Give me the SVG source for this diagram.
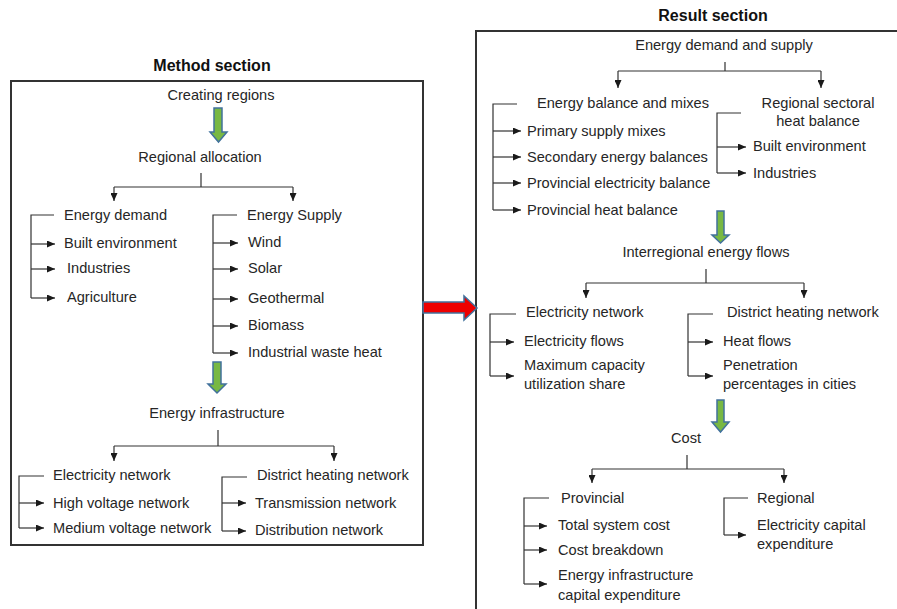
<svg xmlns="http://www.w3.org/2000/svg" width="897" height="609" viewBox="0 0 897 609">
  <defs>
    <marker id="ah" markerUnits="userSpaceOnUse" markerWidth="8" markerHeight="7" refX="8" refY="3.5" orient="auto">
      <path d="M0,0 L8,3.5 L0,7 Z" fill="#1a1a1a"/>
    </marker>
    <style>
      text { font-family: "Liberation Sans", Arial, sans-serif; font-size: 14.6px; fill: #262626; }
      .title { font-weight: bold; font-size: 16px; fill: #111; }
      .mid { text-anchor: middle; }
      .frame { fill: none; stroke: #333; stroke-width: 2; }
      .link { fill: none; stroke: #333; stroke-width: 1.2; }
      .arr { fill: none; stroke: #333; stroke-width: 1.2; marker-end: url(#ah); }
      .green { fill: #78b843; stroke: #41719c; stroke-width: 1.5; }
      .red { fill: #ee0000; stroke: #41719c; stroke-width: 1.5; }
    </style>
  </defs>
  <rect width="897" height="609" fill="#fff"/>

  <!-- section frames -->
  <g id="method-section">
    <rect class="frame" x="11" y="81" width="412" height="464"/>
    <text class="title mid" x="212" y="71">Method section</text>
  </g>
  <g id="result-section">
    <path class="frame" d="M898,31 H476 V610"/>
    <text class="title mid" x="713" y="21">Result section</text>
  </g>

  <!-- method nodes -->
  <g id="creating-regions"><text class="mid" x="221" y="100">Creating regions</text></g>
  <g id="regional-allocation"><text class="mid" x="200" y="162">Regional allocation</text></g>
  <g id="energy-demand">
    <text x="64" y="220">Energy demand</text>
    <text x="64" y="248">Built environment</text>
    <text x="67" y="273">Industries</text>
    <text x="67" y="302">Agriculture</text>
  </g>
  <g id="energy-supply">
    <text x="247" y="220">Energy Supply</text>
    <text x="248" y="247">Wind</text>
    <text x="248" y="273">Solar</text>
    <text x="248" y="303">Geothermal</text>
    <text x="248" y="330">Biomass</text>
    <text x="248" y="357">Industrial waste heat</text>
  </g>
  <g id="energy-infrastructure"><text class="mid" x="217" y="418">Energy infrastructure</text></g>
  <g id="method-electricity-network">
    <text x="53" y="480">Electricity network</text>
    <text x="53" y="508">High voltage network</text>
    <text x="53" y="533">Medium voltage network</text>
  </g>
  <g id="method-district-heating">
    <text x="257" y="480">District heating network</text>
    <text x="255" y="508">Transmission network</text>
    <text x="255" y="535">Distribution network</text>
  </g>

  <!-- result nodes -->
  <g id="demand-supply"><text class="mid" x="724" y="50">Energy demand and supply</text></g>
  <g id="balance-mixes">
    <text x="537" y="108">Energy balance and mixes</text>
    <text x="527" y="136">Primary supply mixes</text>
    <text x="527" y="162">Secondary energy balances</text>
    <text x="527" y="188">Provincial electricity balance</text>
    <text x="527" y="215">Provincial heat balance</text>
  </g>
  <g id="sectoral-heat">
    <text class="mid" x="818" y="108">Regional sectoral</text>
    <text class="mid" x="818" y="126">heat balance</text>
    <text x="753" y="151">Built environment</text>
    <text x="753" y="178">Industries</text>
  </g>
  <g id="interregional-flows"><text class="mid" x="706" y="257">Interregional energy flows</text></g>
  <g id="result-electricity-network">
    <text x="526" y="317">Electricity network</text>
    <text x="524" y="346">Electricity flows</text>
    <text x="524" y="370">Maximum capacity</text>
    <text x="524" y="389">utilization share</text>
  </g>
  <g id="result-district-heating">
    <text x="727" y="317">District heating network</text>
    <text x="723" y="346">Heat flows</text>
    <text x="723" y="370">Penetration</text>
    <text x="723" y="389">percentages in cities</text>
  </g>
  <g id="cost"><text class="mid" x="686" y="443">Cost</text></g>
  <g id="provincial">
    <text x="561" y="503">Provincial</text>
    <text x="558" y="530">Total system cost</text>
    <text x="558" y="555">Cost breakdown</text>
    <text x="558" y="580">Energy infrastructure</text>
    <text x="558" y="600">capital expenditure</text>
  </g>
  <g id="regional">
    <text x="757" y="503">Regional</text>
    <text x="757" y="530">Electricity capital</text>
    <text x="757" y="549">expenditure</text>
  </g>

  <!-- block arrows -->
  <g id="flow-arrows">
    <path class="green" d="M214,108 H222 V132 H227 L218.5,142 L210,132 H214 Z"/>
    <path class="green" d="M213,362 H221 V384 H226 L217,393 L208,384 H213 Z"/>
    <path class="green" d="M717,211 H724 V235 H729 L720.5,243 L712,235 H717 Z"/>
    <path class="green" d="M717,400 H724 V422 H729 L720.5,432 L712,422 H717 Z"/>
    <path class="red" d="M423,302 H464 V296 L477,308 L464,320 V313 H423 Z"/>
  </g>

  <g id="connectors">
    <!-- method: regional allocation split -->
    <path class="link" d="M201,173 V187 M114,187 H293"/>
    <path class="arr" d="M114,187 V201"/>
    <path class="arr" d="M293,187 V201"/>
    <!-- energy demand bracket -->
    <path class="link" d="M54,215 H31 V298"/>
    <path class="arr" d="M31,244 H55"/>
    <path class="arr" d="M31,269 H55"/>
    <path class="arr" d="M31,298 H55"/>
    <!-- energy supply bracket -->
    <path class="link" d="M237,215 H213 V353"/>
    <path class="arr" d="M213,243 H238"/>
    <path class="arr" d="M213,269 H238"/>
    <path class="arr" d="M213,299 H238"/>
    <path class="arr" d="M213,326 H238"/>
    <path class="arr" d="M213,353 H238"/>
    <!-- energy infrastructure split -->
    <path class="link" d="M218,430 V446 M114,446 H334"/>
    <path class="arr" d="M114,446 V461"/>
    <path class="arr" d="M334,446 V461"/>
    <path class="link" d="M44,476 H19 V528"/>
    <path class="arr" d="M19,503 H44"/>
    <path class="arr" d="M19,528 H44"/>
    <path class="link" d="M247,477 H222 V531"/>
    <path class="arr" d="M222,503 H246"/>
    <path class="arr" d="M222,531 H246"/>

    <!-- result: demand and supply split -->
    <path class="link" d="M725,62 V71 M618,71 H821"/>
    <path class="arr" d="M618,71 V88"/>
    <path class="arr" d="M821,71 V88"/>
    <path class="link" d="M517,104 H493 V210"/>
    <path class="arr" d="M493,131 H521"/>
    <path class="arr" d="M493,157 H521"/>
    <path class="arr" d="M493,183 H521"/>
    <path class="arr" d="M493,210 H521"/>
    <path class="link" d="M741,113 H717 V173"/>
    <path class="arr" d="M717,147 H746"/>
    <path class="arr" d="M717,173 H746"/>
    <!-- interregional flows split -->
    <path class="link" d="M706,269 V283 M586,283 H804"/>
    <path class="arr" d="M586,283 V298"/>
    <path class="arr" d="M804,283 V298"/>
    <path class="link" d="M516,314 H490 V376"/>
    <path class="arr" d="M490,342 H514"/>
    <path class="arr" d="M490,376 H514"/>
    <path class="link" d="M713,314 H688 V376"/>
    <path class="arr" d="M688,342 H713"/>
    <path class="arr" d="M688,376 H713"/>
    <!-- cost split -->
    <path class="link" d="M687,455 V469 M592,469 H784"/>
    <path class="arr" d="M592,469 V483"/>
    <path class="arr" d="M784,469 V483"/>
    <path class="link" d="M549,498 H524 V584"/>
    <path class="arr" d="M524,526 H547"/>
    <path class="arr" d="M524,550 H547"/>
    <path class="arr" d="M524,584 H547"/>
    <path class="link" d="M748,498 H724 V535"/>
    <path class="arr" d="M724,535 H746"/>
  </g>
</svg>
